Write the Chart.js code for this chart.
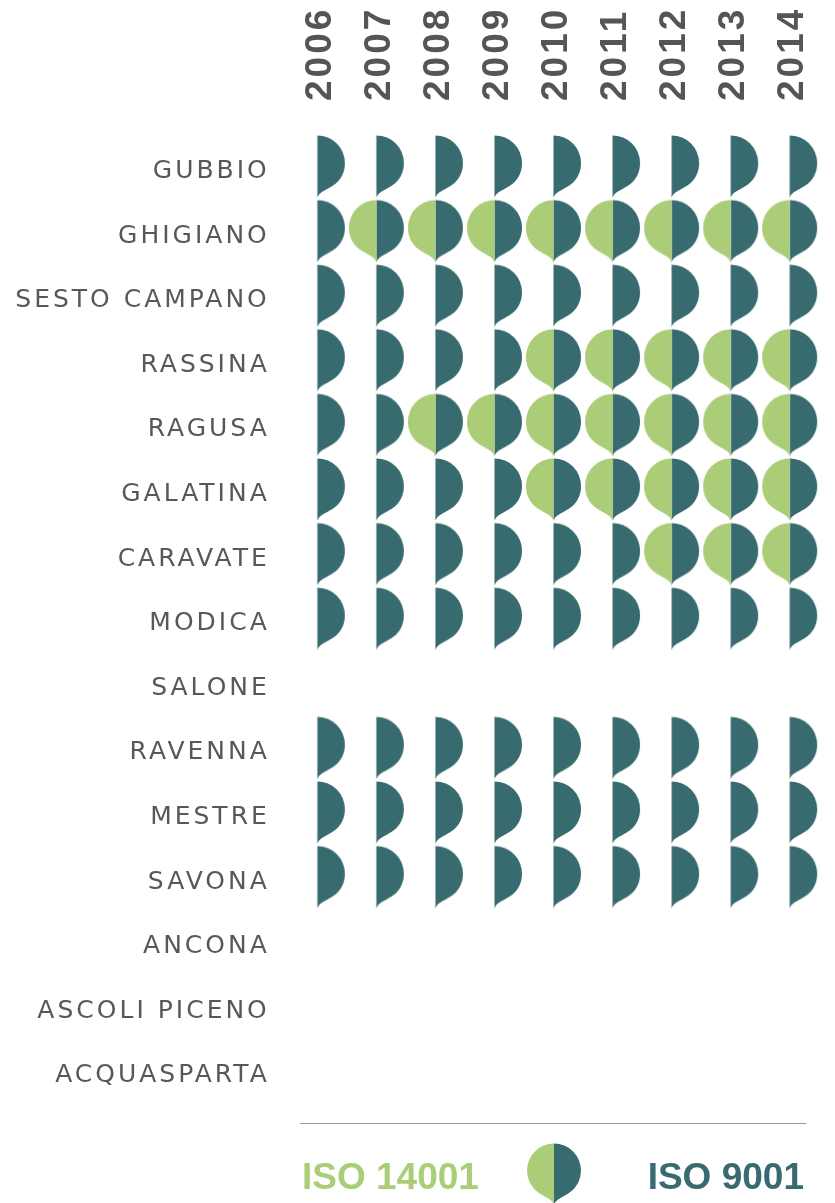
<!DOCTYPE html>
<html>
<head>
<meta charset="utf-8">
<title>ISO 9001 / ISO 14001</title>
<script src="https://cdn.jsdelivr.net/npm/chart.js@4.4.1/dist/chart.umd.min.js"></script>
<style>
  html, body { margin: 0; padding: 0; background: #fff; }
  #wrap { position: relative; width: 835px; height: 1203px; overflow: hidden; }
  #chart { position: absolute; left: 0; top: 0; }
  .rule { position: absolute; left: 300px; top: 1123px; width: 506px; height: 1px; background: #9b9b9b; }
  .key { position: absolute; top: 1158px; font: bold 37px "Liberation Sans", Arial, sans-serif; line-height: 37px; white-space: nowrap; }
  .key.green { left: 302px; color: #abcd78; }
  .key.dark { right: 31px; color: #386b6f; }
  #keyIcon { position: absolute; }
</style>
</head>
<body>
<div id="wrap">
  <canvas id="chart" width="835" height="1203"></canvas>
  <div class="rule"></div>
  <div class="key green">ISO 14001</div>
  <div id="keyIconHolder"></div>
  <div class="key dark">ISO 9001</div>
</div>
<script>
// Years (columns) and sites (rows)
const years = ['2006', '2007', '2008', '2009', '2010', '2011', '2012', '2013', '2014'];
const sites = ['GUBBIO', 'GHIGIANO', 'SESTO CAMPANO', 'RASSINA', 'RAGUSA', 'GALATINA', 'CARAVATE',
               'MODICA', 'SALONE', 'RAVENNA', 'MESTRE', 'SAVONA', 'ANCONA', 'ASCOLI PICENO', 'ACQUASPARTA'];

// 1 = certified that year, one row per site, one column per year
const iso9001 = [
  [1, 1, 1, 1, 1, 1, 1, 1, 1], // GUBBIO
  [1, 1, 1, 1, 1, 1, 1, 1, 1], // GHIGIANO
  [1, 1, 1, 1, 1, 1, 1, 1, 1], // SESTO CAMPANO
  [1, 1, 1, 1, 1, 1, 1, 1, 1], // RASSINA
  [1, 1, 1, 1, 1, 1, 1, 1, 1], // RAGUSA
  [1, 1, 1, 1, 1, 1, 1, 1, 1], // GALATINA
  [1, 1, 1, 1, 1, 1, 1, 1, 1], // CARAVATE
  [1, 1, 1, 1, 1, 1, 1, 1, 1], // MODICA
  [0, 0, 0, 0, 0, 0, 0, 0, 0], // SALONE
  [1, 1, 1, 1, 1, 1, 1, 1, 1], // RAVENNA
  [1, 1, 1, 1, 1, 1, 1, 1, 1], // MESTRE
  [1, 1, 1, 1, 1, 1, 1, 1, 1], // SAVONA
  [0, 0, 0, 0, 0, 0, 0, 0, 0], // ANCONA
  [0, 0, 0, 0, 0, 0, 0, 0, 0], // ASCOLI PICENO
  [0, 0, 0, 0, 0, 0, 0, 0, 0]  // ACQUASPARTA
];
const iso14001 = [
  [0, 0, 0, 0, 0, 0, 0, 0, 0], // GUBBIO
  [0, 1, 1, 1, 1, 1, 1, 1, 1], // GHIGIANO
  [0, 0, 0, 0, 0, 0, 0, 0, 0], // SESTO CAMPANO
  [0, 0, 0, 0, 1, 1, 1, 1, 1], // RASSINA
  [0, 0, 1, 1, 1, 1, 1, 1, 1], // RAGUSA
  [0, 0, 0, 0, 1, 1, 1, 1, 1], // GALATINA
  [0, 0, 0, 0, 0, 0, 1, 1, 1], // CARAVATE
  [0, 0, 0, 0, 0, 0, 0, 0, 0], // MODICA
  [0, 0, 0, 0, 0, 0, 0, 0, 0], // SALONE
  [0, 0, 0, 0, 0, 0, 0, 0, 0], // RAVENNA
  [0, 0, 0, 0, 0, 0, 0, 0, 0], // MESTRE
  [0, 0, 0, 0, 0, 0, 0, 0, 0], // SAVONA
  [0, 0, 0, 0, 0, 0, 0, 0, 0], // ANCONA
  [0, 0, 0, 0, 0, 0, 0, 0, 0], // ASCOLI PICENO
  [0, 0, 0, 0, 0, 0, 0, 0, 0]  // ACQUASPARTA
];

const DARK = '#386b6f';
const GREEN = '#abcd78';

function toPoints(matrix) {
  var pts = [];
  matrix.forEach(function (row, i) {
    row.forEach(function (v, j) {
      if (v) pts.push({ x: years[j], y: sites[i] });
    });
  });
  return pts;
}

// half drop: circle on top, pointed tail at the bottom of the centre line
// side = 1 right half, -1 left half
function drawHalf(ctx, cx, cy, r, side, color) {
  var a = 57 * Math.PI / 180;
  ctx.beginPath();
  ctx.moveTo(cx, cy - r);
  if (side > 0) {
    ctx.arc(cx, cy, r, -Math.PI / 2, a, false);
  } else {
    ctx.arc(cx, cy, r, -Math.PI / 2, Math.PI - a, true);
  }
  ctx.bezierCurveTo(cx + side * 0.29 * r, cy + 1.0 * r,
                    cx + side * 0.055 * r, cy + 1.07 * r,
                    cx, cy + 1.27 * r);
  ctx.closePath();
  ctx.fillStyle = color;
  ctx.fill();
}

function dropSprite(r, left, right) {
  var c = document.createElement('canvas');
  c.width = Math.ceil(2 * r + 6);
  c.height = Math.ceil(2 * (1.14 * r + 3));
  var ctx = c.getContext('2d');
  var cx = c.width / 2;
  var cy = c.height / 2 - 0.13 * r;   // point anchor sits a bit below the circle centre
  if (left) drawHalf(ctx, cx, cy, r, -1, left);
  if (right) drawHalf(ctx, cx, cy, r, 1, right);
  return c;
}

const R = 27.5;
const darkHalf = dropSprite(R, null, DARK);
const greenHalf = dropSprite(R, GREEN, null);

// legend icon
const icon = dropSprite(27, GREEN, DARK);
icon.id = 'keyIcon';
icon.style.left = (553.5 - icon.width / 2) + 'px';
icon.style.top = (1170 - (icon.height / 2 - 0.13 * 27)) + 'px';
document.getElementById('keyIconHolder').appendChild(icon);

// year labels, rotated, read upward, sitting on the column centres
const yearLabels = {
  id: 'yearLabels',
  afterDraw: function (chart) {
    var ctx = chart.ctx;
    var xs = chart.scales.x;
    var cap = 0.716 * 37;
    ctx.save();
    ctx.letterSpacing = '3px';
    ctx.font = 'bold 37px "Liberation Sans", Arial, sans-serif';
    ctx.fillStyle = '#555555';
    ctx.textAlign = 'left';
    ctx.textBaseline = 'alphabetic';
    years.forEach(function (label, i) {
      ctx.save();
      ctx.translate(xs.getPixelForTick(i), 101);
      ctx.rotate(-Math.PI / 2);
      ctx.fillText(label, 0, cap / 2);
      ctx.restore();
    });
    ctx.restore();
  }
};

new Chart(document.getElementById('chart'), {
  type: 'scatter',
  data: {
    datasets: [
      { label: 'ISO 14001', data: toPoints(iso14001), pointStyle: greenHalf, pointRadius: 1, clip: false },
      { label: 'ISO 9001', data: toPoints(iso9001), pointStyle: darkHalf, pointRadius: 1, clip: false }
    ]
  },
  options: {
    responsive: false,
    animation: false,
    events: [],
    layout: { autoPadding: false, padding: { top: 0, right: 15.8, bottom: 99.8, left: 0 } },
    plugins: { legend: { display: false }, tooltip: { enabled: false } },
    scales: {
      x: {
        type: 'category',
        labels: years,
        position: 'top',
        offset: true,
        grid: { display: false, drawTicks: false },
        border: { display: false },
        ticks: { display: false },
        afterFit: function (scale) { scale.height = 134.2; }
      },
      y: {
        type: 'category',
        labels: sites,
        offset: true,
        grid: { display: false, drawTicks: false },
        border: { display: false },
        ticks: {
          autoSkip: false,
          padding: 18,
          labelOffset: 5,
          color: '#585858',
          font: { family: '"DejaVu Sans", sans-serif', size: 25 }
        },
        afterFit: function (scale) { scale.width = 287.8; }
      }
    }
  },
  plugins: [{
    id: 'spacing',
    beforeDraw: function (chart) { chart.ctx.letterSpacing = '3px'; }
  }, yearLabels]
});
</script>
</body>
</html>
